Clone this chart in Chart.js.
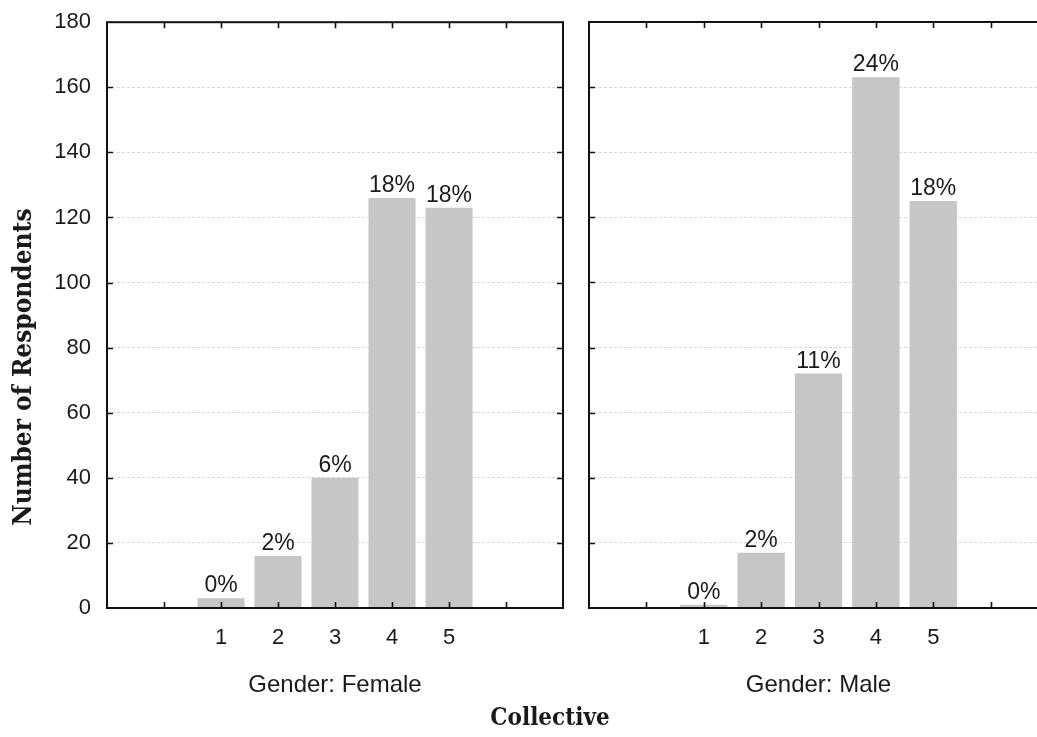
<!DOCTYPE html>
<html>
<head>
<meta charset="utf-8">
<script src="https://cdn.jsdelivr.net/npm/chart.js@4/dist/chart.umd.min.js"></script>
<style>
  html, body { margin: 0; padding: 0; background: #fff; overflow: hidden; width: 1037px; height: 737px; }
  #wrap { position: relative; width: 1037px; height: 737px; overflow: hidden; }
  #c1 { position: absolute; left: 0; top: -7px; }
  #c2 { position: absolute; left: 565px; top: 0; }
  #overall { position: absolute; left: 450px; width: 200px; top: 702px; text-align: center;
    font-family: 'DejaVu Serif Condensed', 'DejaVu Serif', serif; font-weight: bold; font-size: 24px; color: #1a1a1a;
    font-stretch: condensed; line-height: 30px; }
</style>
</head>
<body>
<div id="wrap">
  <canvas id="c1" width="580" height="744" style="width:580px;height:744px"></canvas>
  <canvas id="c2" width="500" height="737" style="width:500px;height:737px"></canvas>
  <div id="overall">Collective</div>
</div>
<script>
// ---- data ----
const categories = [1, 2, 3, 4, 5];
const femaleCounts = [3, 16, 40, 126, 123];
const maleCounts = [1, 17, 72, 163, 125];
const femalePct = ['0%', '2%', '6%', '18%', '18%'];
const malePct = ['0%', '2%', '11%', '24%', '18%'];
const panelTitles = ['Gender: Female', 'Gender: Male'];
const yTitle = 'Number of Respondents';

const SANS = "'Liberation Sans', Arial, sans-serif";
const SERIF = "'DejaVu Serif Condensed', 'DejaVu Serif', serif";
const BAR = '#c6c6c6';

const framePlugin = {
  id: 'frame',
  afterDatasetsDraw(chart) {
    const {ctx, chartArea: a, scales} = chart;
    ctx.save();
    ctx.strokeStyle = '#111';
    ctx.lineWidth = 1.6;
    const L = 6;
    ctx.beginPath();
    scales.x.ticks.forEach(t => {
      if (t.value <= scales.x.min || t.value >= scales.x.max) return;
      const px = Math.round(scales.x.getPixelForValue(t.value)) + 0.5;
      ctx.moveTo(px, a.top); ctx.lineTo(px, a.top + L);
      ctx.moveTo(px, a.bottom); ctx.lineTo(px, a.bottom - L);
    });
    scales.y.ticks.forEach(t => {
      if (t.value <= scales.y.min || t.value >= scales.y.max) return;
      const py = Math.round(scales.y.getPixelForValue(t.value)) + 0.5;
      ctx.moveTo(a.left, py); ctx.lineTo(a.left + L, py);
      ctx.moveTo(a.right, py); ctx.lineTo(a.right - L, py);
    });
    ctx.stroke();
    ctx.lineWidth = 2;
    ctx.strokeRect(a.left, a.top, a.right - a.left, a.bottom - a.top);
    ctx.restore();
  }
};

const pctPlugin = {
  id: 'pct',
  afterDatasetsDraw(chart, args, opts) {
    const {ctx} = chart;
    const meta = chart.getDatasetMeta(0);
    ctx.save();
    ctx.font = '23px ' + SANS;
    ctx.fillStyle = '#1a1a1a';
    ctx.textAlign = 'center';
    ctx.textBaseline = 'alphabetic';
    meta.data.forEach((bar, i) => {
      ctx.fillText(opts.labels[i], bar.x, bar.y - 6);
    });
    ctx.restore();
  }
};

const yTitlePlugin = {
  id: 'ytitle',
  afterDraw(chart, args, opts) {
    if (!opts.text) return;
    const {ctx, chartArea: a} = chart;
    ctx.save();
    ctx.font = 'bold 26px ' + SERIF;
    ctx.fillStyle = '#1a1a1a';
    ctx.textAlign = 'center';
    ctx.textBaseline = 'middle';
    ctx.translate(opts.x, (a.top + a.bottom) / 2 + opts.shift);
    ctx.rotate(-Math.PI / 2);
    ctx.fillText(opts.text, 0, 0);
    ctx.restore();
  }
};

function makeChart(id, counts, pct, title, isLeft) {
  return new Chart(document.getElementById(id), {
    type: 'bar',
    data: {
      datasets: [{
        data: categories.map((c, i) => ({x: c, y: counts[i]})),
        backgroundColor: BAR,
        borderWidth: 0,
        barPercentage: 0.825,
        categoryPercentage: 1.0
      }]
    },
    options: {
      responsive: false,
      animation: false,
      layout: { padding: isLeft ? {left: 0, top: 15, right: 7, bottom: 0} : {left: 24, top: 22, right: 17, bottom: 0} },
      plugins: {
        legend: { display: false },
        tooltip: { enabled: false },
        pct: { labels: pct },
        ytitle: isLeft ? { text: yTitle, x: 24, shift: 52 } : { text: '' }
      },
      scales: {
        x: {
          type: 'linear',
          min: -1, max: 7,
          offset: false,
          grid: { display: false, drawTicks: false },
          border: { display: false },
          ticks: {
            stepSize: 1,
            padding: 17,
            color: '#1a1a1a',
            font: { family: SANS, size: 22 },
            callback: v => (categories.includes(v) ? String(v) : '')
          },
          title: {
            display: true,
            text: title,
            color: '#1a1a1a',
            font: { family: SANS, size: 24 },
            padding: { top: 0, bottom: 37 }
          },
          afterFit: s => { s.height = 129; }
        },
        y: {
          min: 0, max: 180,
          grid: { color: '#d9d9d9', lineWidth: 1, drawTicks: false },
          border: { display: false, dash: [3, 2] },
          ticks: {
            display: isLeft,
            stepSize: 20,
            padding: 16,
            color: '#1a1a1a',
            font: { family: SANS, size: 22 }
          },
          afterFit: s => { s.width = isLeft ? 107 : 0; }
        }
      }
    },
    plugins: [framePlugin, pctPlugin, yTitlePlugin]
  });
}

makeChart('c1', femaleCounts, femalePct, panelTitles[0], true);
makeChart('c2', maleCounts, malePct, panelTitles[1], false);
</script>
</body>
</html>
